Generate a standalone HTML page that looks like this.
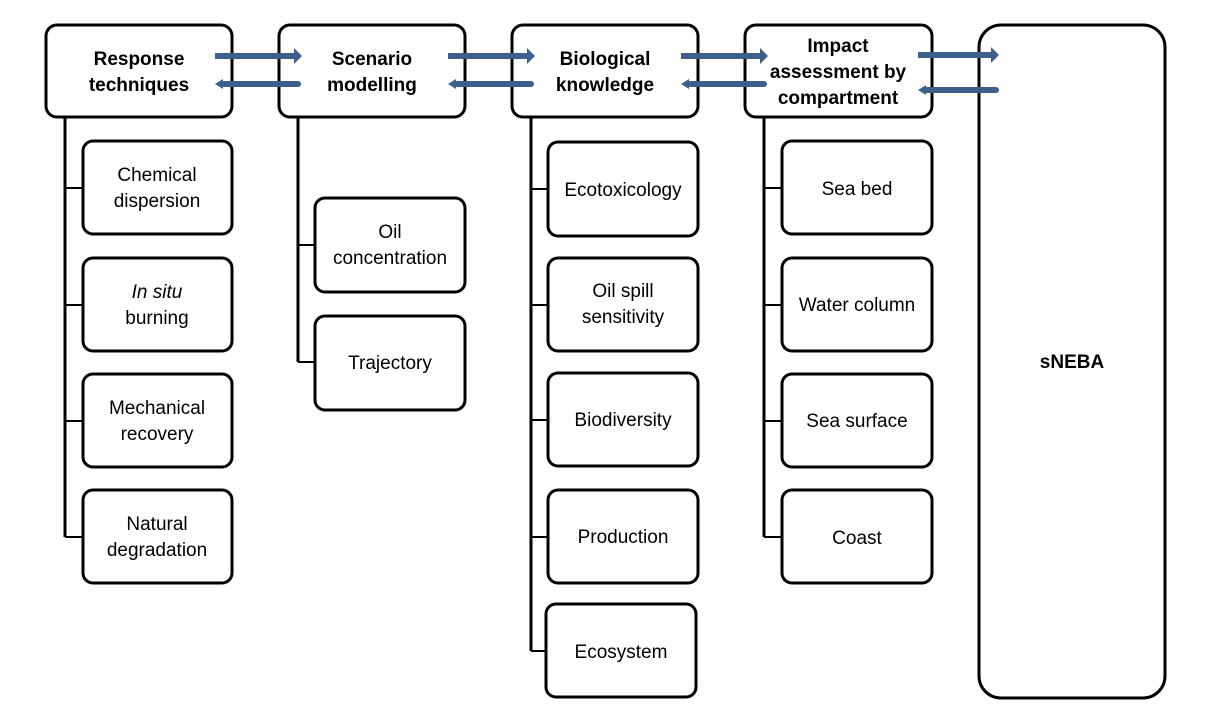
<!DOCTYPE html>
<html><head><meta charset="utf-8"><style>
html,body{margin:0;padding:0;background:#fff;}
svg{display:block;}
text{font-family:"Liberation Sans",sans-serif;font-size:19px;fill:#000;text-anchor:middle;}
.b{font-weight:bold;}
</style></head><body>
<svg width="1232" height="728" viewBox="0 0 1232 728">
<g fill="#fff" stroke="#000" stroke-width="3">
<rect x="46" y="25" width="186" height="92" rx="11"/>
<rect x="279" y="25" width="186" height="92" rx="11"/>
<rect x="512" y="25" width="186" height="92" rx="11"/>
<rect x="745" y="25" width="187" height="92" rx="11"/>
<rect x="979" y="25" width="186" height="673" rx="22"/>

<rect x="83" y="141" width="149" height="93" rx="10"/>
<rect x="83" y="258" width="149" height="93" rx="10"/>
<rect x="83" y="374" width="149" height="93" rx="10"/>
<rect x="83" y="490" width="149" height="93" rx="10"/>

<rect x="315" y="198" width="150" height="94" rx="10"/>
<rect x="315" y="316" width="150" height="94" rx="10"/>

<rect x="548" y="142" width="150" height="94" rx="10"/>
<rect x="548" y="258" width="150" height="93" rx="10"/>
<rect x="548" y="373" width="150" height="93" rx="10"/>
<rect x="548" y="490" width="150" height="93" rx="10"/>
<rect x="546" y="604" width="150" height="93" rx="10"/>

<rect x="782" y="141" width="150" height="93" rx="10"/>
<rect x="782" y="258" width="150" height="93" rx="10"/>
<rect x="782" y="374" width="150" height="93" rx="10"/>
<rect x="782" y="490" width="150" height="93" rx="10"/>
</g>
<g stroke="#000" fill="none">
<path d="M65 117V537" stroke-width="3"/>
<path d="M65 188H83M65 305H83M65 421H83M65 537H83" stroke-width="2"/>
<path d="M298 117V362" stroke-width="3"/>
<path d="M298 245H315M298 362H315" stroke-width="2"/>
<path d="M531 117V651" stroke-width="3"/>
<path d="M531 189H548M531 305H548M531 420H548M531 537H548M531 651H546" stroke-width="2"/>
<path d="M764 117V537" stroke-width="3"/>
<path d="M764 188H782M764 305H782M764 421H782M764 537H782" stroke-width="2"/>
</g>
<g fill="#3d5f8c">
<rect x="215" y="53" width="80" height="6"/><polygon points="294,48 302,56 294,64"/>
<rect x="221" y="81" width="80" height="6" rx="3"/><polygon points="223,79 215,84 223,89"/>
<rect x="448" y="53" width="80" height="6"/><polygon points="527,48 535,56 527,64"/>
<rect x="454" y="81" width="80" height="6" rx="3"/><polygon points="456,79 448,84 456,89"/>
<rect x="681" y="53" width="80" height="6"/><polygon points="760,48 768,56 760,64"/>
<rect x="687" y="81" width="80" height="6" rx="3"/><polygon points="689,79 681,84 689,89"/>
<rect x="918" y="52" width="74" height="6"/><polygon points="991,47 999,55 991,63"/>
<rect x="924" y="87" width="75" height="6" rx="3"/><polygon points="926,85 918,90 926,95"/>
</g>
<g>
<text x="139" y="65" class="b">Response</text><text x="139" y="91" class="b">techniques</text>
<text x="372" y="65" class="b">Scenario</text><text x="372" y="91" class="b">modelling</text>
<text x="605" y="65" class="b">Biological</text><text x="605" y="91" class="b">knowledge</text>
<text x="838" y="52" class="b">Impact</text><text x="838" y="78" class="b">assessment by</text><text x="838" y="104" class="b">compartment</text>
<text x="1072" y="368" class="b">sNEBA</text>

<text x="157" y="181">Chemical</text><text x="157" y="207">dispersion</text>
<text x="157" y="298" font-style="italic">In situ</text><text x="157" y="324">burning</text>
<text x="157" y="414">Mechanical</text><text x="157" y="440">recovery</text>
<text x="157" y="530">Natural</text><text x="157" y="556">degradation</text>

<text x="390" y="238">Oil</text><text x="390" y="264">concentration</text>
<text x="390" y="369">Trajectory</text>

<text x="623" y="196">Ecotoxicology</text>
<text x="623" y="297">Oil spill</text><text x="623" y="323">sensitivity</text>
<text x="623" y="426">Biodiversity</text>
<text x="623" y="543">Production</text>
<text x="621" y="658">Ecosystem</text>

<text x="857" y="195">Sea bed</text>
<text x="857" y="311">Water column</text>
<text x="857" y="427">Sea surface</text>
<text x="857" y="544">Coast</text>
</g>
</svg>
</body></html>
